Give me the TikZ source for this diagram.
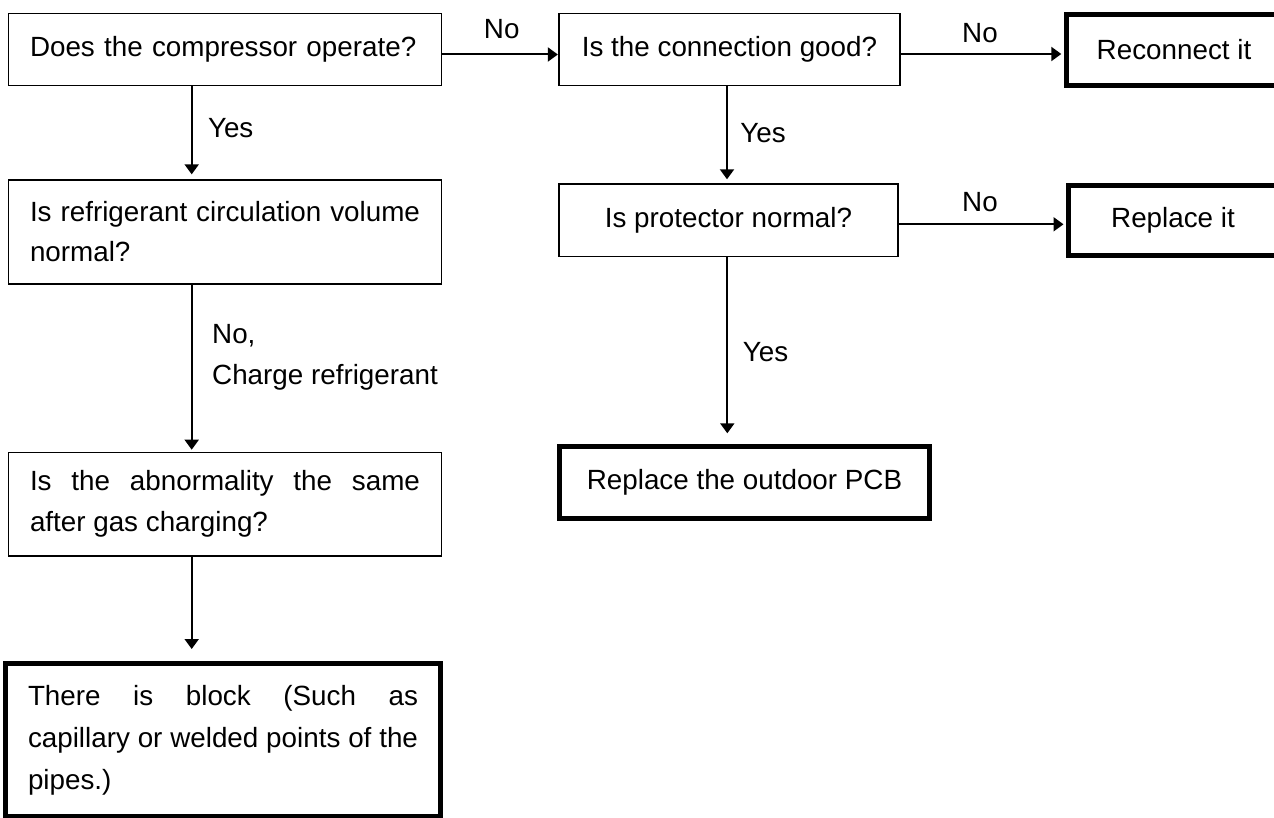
\documentclass[tikz,border=0pt]{standalone}
\usepackage{fontspec}
\setmainfont{Liberation Sans}
\usetikzlibrary{arrows.meta}
\begin{document}
\begin{tikzpicture}[x=1pt,y=-1pt,
  every node/.style={font=\fontsize{27.8pt}{40pt}\selectfont},
  thinbox/.style={draw=black,line width=1.3pt,inner sep=0pt,minimum width=433.4pt},
  thickbox/.style={draw=black,line width=5pt,inner sep=0pt},
  lbl/.style={inner sep=0pt},
  arr/.style={line width=2pt,-{Triangle[length=10pt,width=14pt]}}]
\clip (0,0) rectangle (1274,818);
\fill[white] (0,0) rectangle (1274,818);
% left column
\node[thinbox,minimum height=72.4pt,text width=390pt,align=left] (q1) at (225,49.5) {Does the compressor operate?};
\node[thinbox,minimum height=104pt,text width=390pt,align=justify] (q2) at (225,232) {\hyphenpenalty=10000 Is refrigerant circulation volume\linebreak normal?};
\node[thinbox,minimum height=103.7pt,text width=390pt,align=justify,font=\fontsize{27.8pt}{41pt}\selectfont] (q3) at (225,504.2) {\hyphenpenalty=10000 Is the abnormality the same\linebreak after gas charging?};
\node[thickbox,minimum width=435pt,minimum height=153pt,text width=390pt,align=justify,font=\fontsize{27.8pt}{42pt}\selectfont] (r4) at (223,740) {\hyphenpenalty=10000 There is block (Such as\linebreak capillary or welded points of the\linebreak pipes.)};
% middle column
\node[thinbox,minimum width=341pt,minimum height=72.4pt,align=center] (c1) at (729.5,49.5) {Is the connection good?};
\node[thinbox,minimum width=339pt,minimum height=72.7pt,align=center] (c2) at (728.5,220.3) {Is protector normal?};
\node[thickbox,minimum width=369.4pt,minimum height=71.4pt] (pcb) at (744.5,482.5) {Replace the outdoor PCB};
% right column
\node[thickbox,minimum width=215.4pt,minimum height=71.6pt] (rec) at (1174,50) {Reconnect it};
\node[thickbox,minimum width=209pt,minimum height=70.6pt] (rep) at (1173,220.5) {Replace it};
% connectors
\coordinate (lx) at (191.7,0);
\draw[arr,shorten >=5pt] (q1.south -| lx) -- (q2.north -| lx);
\draw[arr,shorten >=2pt] (q2.south -| lx) -- (q3.north -| lx);
\draw[arr,shorten >=12pt] (q3.south -| lx) -- (r4.north -| lx);
\draw[arr,shorten >=0.5pt] ([yshift=-5pt]q1.east) -- ([yshift=-5pt]q1.east -| c1.west);
\draw[arr,shorten >=2.5pt] ([yshift=-4.5pt]c1.east) -- ([yshift=-4.5pt]c1.east -| rec.west);
\draw[arr,shorten >=4pt] ([xshift=-2.5pt]c1.south) -- ([xshift=-2.5pt]c1.south |- c2.north);
\draw[arr,shorten >=2.5pt] ([yshift=-4pt]c2.east) -- ([yshift=-4pt]c2.east -| rep.west);
\draw[arr,shorten >=11pt] ([xshift=-1.2pt]c2.south) -- ([xshift=-1.2pt]c2.south |- pcb.north);
% labels
\node[lbl] (l1) at (501.7,29) {No};
\node[lbl] (l2) at (230.7,127.7) {Yes};
\node[lbl] (l3) at (980,33) {No};
\node[lbl] (l4) at (763,133) {Yes};
\node[lbl] (l5) at (980,201.7) {No};
\node[lbl] (l6) at (765.5,351.7) {Yes};
\node[lbl,anchor=west,align=left,font=\fontsize{27.8pt}{41pt}\selectfont] (l7) at (212,357.5) {No,\\Charge refrigerant};
\end{tikzpicture}
\end{document}
